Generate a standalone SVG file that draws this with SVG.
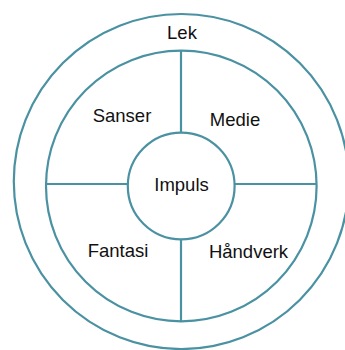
<svg xmlns="http://www.w3.org/2000/svg" width="345" height="350" viewBox="0 0 345 350">
<style>
.ring{fill:none;stroke:#4A91A2;stroke-width:2.2}
.ln{stroke:#4A91A2;stroke-width:2.2;fill:none}
.t{font-family:"Liberation Sans",Arial,sans-serif;font-size:18.5px;fill:#111;text-anchor:middle}
</style>
<rect width="345" height="350" fill="#fff"/>
<g id="lek">
<circle class="ring" cx="181.3" cy="181.5" r="167.5"/>
<text class="t" x="182" y="39">Lek</text>
</g>
<g id="middle">
<circle class="ring" cx="181.3" cy="186" r="135.3"/>
</g>
<g id="connectors">
<line class="ln" x1="181" y1="51" x2="181" y2="132.6"/>
<line class="ln" x1="181" y1="239.4" x2="181" y2="321.3"/>
<line class="ln" x1="46" y1="184" x2="127.8" y2="184"/>
<line class="ln" x1="234.7" y1="184" x2="316.6" y2="184"/>
</g>
<g id="sanser"><text class="t" x="122" y="122">Sanser</text></g>
<g id="medie"><text class="t" x="235" y="126">Medie</text></g>
<g id="fantasi"><text class="t" x="118" y="257">Fantasi</text></g>
<g id="handverk"><text class="t" x="248.5" y="258">Håndverk</text></g>
<g id="impuls">
<circle class="ring" cx="181.2" cy="186" r="53.4"/>
<text class="t" x="181.5" y="190.5">Impuls</text>
</g>
</svg>
